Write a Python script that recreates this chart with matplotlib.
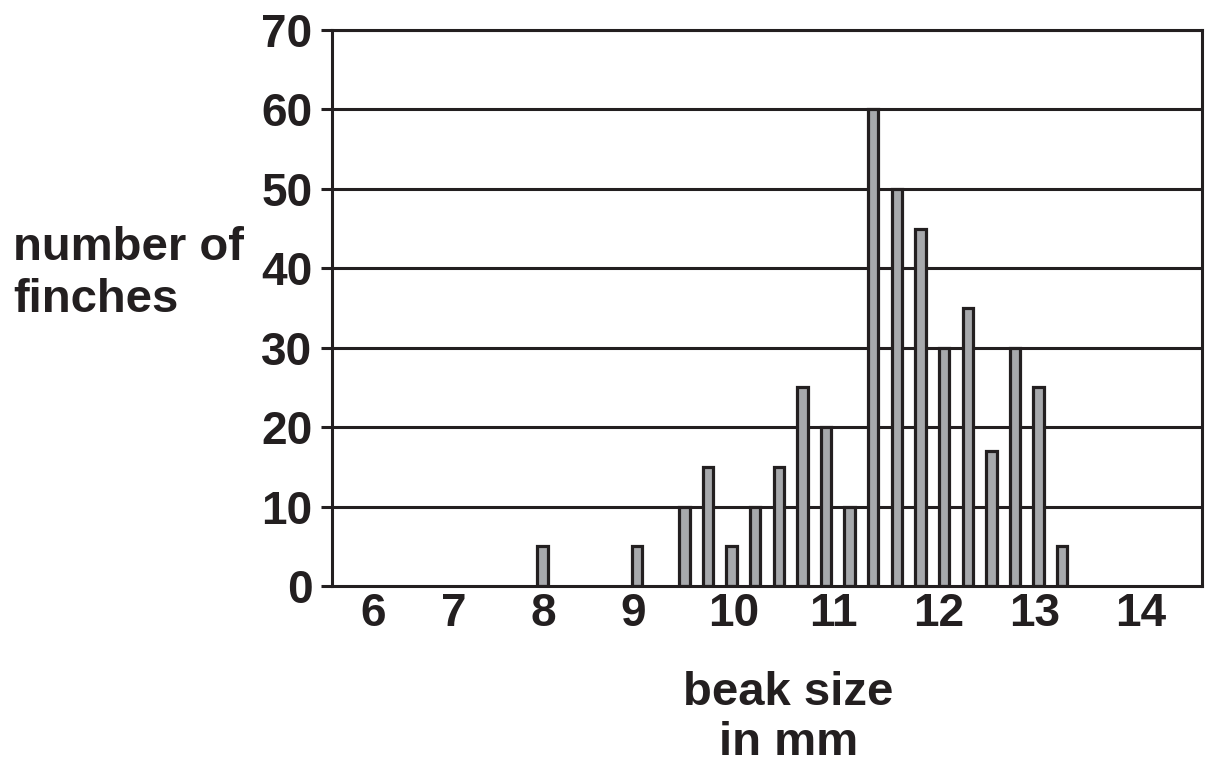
import matplotlib
matplotlib.use("Agg")
import matplotlib.pyplot as plt

plt.rcParams['font.family'] = ['Liberation Sans', 'DejaVu Sans']
plt.rcParams['font.weight'] = 'bold'

# beak size (mm) and number of finches
beak_mm = [8, 9, 9.5, 9.75, 10, 10.25, 10.5, 10.75, 11, 11.25,
           11.5, 11.75, 12, 12.25, 12.5, 12.75, 13, 13.25, 13.5]
finches = [5, 5, 10, 15, 5, 10, 15, 25, 20, 10,
           60, 50, 45, 30, 35, 17, 30, 25, 5]

x_labels = ['6', '7', '8', '9', '10', '11', '12', '13', '14']
y_ticks = [0, 10, 20, 30, 40, 50, 60, 70]

ink = '#231f20'

fig = plt.figure(figsize=(12.05, 7.67), dpi=100, facecolor='white')
ax = fig.add_axes([0.2755, 0.236, 0.722, 0.725])

# horizontal lines behind the bars
for v in y_ticks[1:]:
    ax.axhline(v, color=ink, lw=2.2, zorder=1)

ax.bar(beak_mm, finches, width=0.11, color='#a7a9ac', edgecolor=ink,
       linewidth=2.3, zorder=3)

ax.set_xlim(5.77, 14.98)
ax.set_ylim(0, 70)

# tick labels are placed by hand in the original, a bit off the bar grid
label_pos = [6.21, 7.06, 8.01, 8.96, 10.02, 11.08, 12.19, 13.21, 14.33]
ax.set_xticks(label_pos)
ax.set_xticklabels(x_labels)
ax.set_yticks(y_ticks)
ax.tick_params(axis='x', length=0, pad=4, labelsize=33, colors=ink)
ax.tick_params(axis='y', length=8, width=2.2, pad=6, labelsize=33, colors=ink)

for s in ax.spines.values():
    s.set_linewidth(2.2)
    s.set_color(ink)
    s.set_zorder(4)

fig.text(0.011, 0.643, 'number of\nfinches', fontsize=34, fontweight='bold',
         color=ink, ha='left', va='center', linespacing=1.25)
fig.text(0.654, 0.064, 'beak size\nin mm', fontsize=34, fontweight='bold',
         color=ink, ha='center', va='center', linespacing=1.18)

plt.savefig('out.png', dpi=100)
